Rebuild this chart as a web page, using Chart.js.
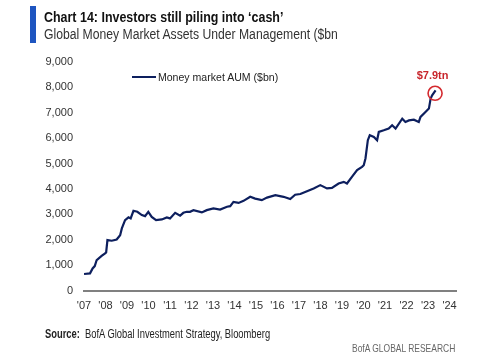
<!DOCTYPE html>
<html>
<head>
<meta charset="utf-8">
<script src="https://cdn.jsdelivr.net/npm/chart.js@4/dist/chart.umd.min.js"></script>
<style>
  html, body { margin:0; padding:0; background:#fff; }
  #wrap { position:relative; width:500px; height:355px; overflow:hidden; font-family:"Liberation Sans",Arial,sans-serif; }
  #c { position:absolute; left:0; top:0; }
  .bar { position:absolute; left:30px; top:6px; width:6px; height:37px; background:#1e55c0; }
  .t { position:absolute; white-space:nowrap; transform-origin:left center; }
  .title { left:44px; top:8px; font-size:15px; font-weight:bold; color:#111; line-height:18px; transform:scaleX(0.83); }
  .sub { left:44px; top:25px; font-size:14px; color:#333; line-height:18px; transform:scaleX(0.87); }
  .legend { left:132px; top:70px; font-size:11px; color:#222; line-height:14px; transform:scaleX(0.96); }
  .legend span.ln { display:inline-block; width:25px; height:2px; background:#0d1f5e; vertical-align:middle; margin-right:2px; position:relative; top:-1px; }
  .src { left:45px; top:327px; font-size:12px; color:#222; line-height:15px; transform:scaleX(0.78); }
  .brand { left:352px; top:341px; font-size:11px; color:#666; line-height:14px; transform:scaleX(0.77); }
</style>
</head>
<body>
<div id="wrap">
  <canvas id="c" width="500" height="355"></canvas>
  <div class="bar"></div>
  <div class="t title">Chart 14: Investors still piling into ‘cash’</div>
  <div class="t sub">Global Money Market Assets Under Management ($bn</div>
  <div class="t legend"><span class="ln"></span>Money market AUM ($bn)</div>
  <div class="t src"><b>Source:</b>&nbsp; BofA Global Investment Strategy, Bloomberg</div>
  <div class="t brand">BofA GLOBAL RESEARCH</div>
</div>
<script>
const seriesName = "Money market AUM ($bn)";
const dates = [2007.0, 2007.28, 2007.4, 2007.5, 2007.59, 2007.82, 2007.98, 2008.03, 2008.09, 2008.29, 2008.52, 2008.68, 2008.76, 2008.91, 2009.07, 2009.17, 2009.3, 2009.48, 2009.69, 2009.84, 2009.99, 2010.15, 2010.35, 2010.62, 2010.85, 2011.0, 2011.24, 2011.47, 2011.62, 2011.78, 2011.93, 2012.09, 2012.48, 2012.71, 2013.02, 2013.33, 2013.65, 2013.8, 2013.95, 2014.19, 2014.42, 2014.73, 2014.96, 2015.27, 2015.51, 2015.9, 2016.28, 2016.59, 2016.82, 2017.06, 2017.37, 2017.68, 2017.99, 2018.3, 2018.53, 2018.84, 2019.08, 2019.23, 2019.46, 2019.7, 2019.93, 2020.01, 2020.09, 2020.2, 2020.29, 2020.48, 2020.63, 2020.71, 2020.94, 2021.17, 2021.33, 2021.49, 2021.8, 2021.95, 2022.11, 2022.34, 2022.57, 2022.65, 2022.88, 2023.04, 2023.12, 2023.19, 2023.35];
const values = [650, 675, 870, 960, 1200, 1360, 1460, 1500, 1985, 1960, 2010, 2180, 2445, 2770, 2880, 2840, 3140, 3100, 2970, 2930, 3100, 2900, 2770, 2800, 2880, 2840, 3060, 2950, 3060, 3100, 3100, 3165, 3075, 3165, 3230, 3190, 3300, 3320, 3490, 3450, 3530, 3690, 3620, 3560, 3660, 3755, 3690, 3600, 3770, 3800, 3910, 4020, 4150, 4020, 4040, 4215, 4280, 4215, 4475, 4740, 4870, 4935, 5200, 5920, 6115, 6050, 5920, 6245, 6310, 6380, 6510, 6380, 6770, 6640, 6700, 6730, 6640, 6835, 7030, 7165, 7560, 7690, 7885];
const yTicks = [0, 1000, 2000, 3000, 4000, 5000, 6000, 7000, 8000, 9000];
const xTickYears = [2007, 2008, 2009, 2010, 2011, 2012, 2013, 2014, 2015, 2016, 2017, 2018, 2019, 2020, 2021, 2022, 2023, 2024];
const calloutLabel = "$7.9tn";

const points = dates.map((d, i) => ({ x: d, y: values[i] }));

const callout = {
  id: 'callout',
  afterDatasetsDraw(chart) {
    const meta = chart.getDatasetMeta(0);
    const last = meta.data[meta.data.length - 1];
    const ctx = chart.ctx;
    ctx.save();
    ctx.strokeStyle = '#d42a2f';
    ctx.lineWidth = 1.6;
    ctx.beginPath();
    ctx.arc(last.x - 0.5, last.y + 3, 7, 0, Math.PI * 2);
    ctx.stroke();
    ctx.fillStyle = '#c8262c';
    ctx.font = 'bold 11px "Liberation Sans", Arial, sans-serif';
    ctx.textAlign = 'center';
    ctx.textBaseline = 'middle';
    ctx.fillText(calloutLabel, last.x - 3, last.y - 14);
    ctx.restore();
  }
};

new Chart(document.getElementById('c'), {
  type: 'line',
  data: {
    datasets: [{
      label: seriesName,
      data: points,
      borderColor: '#0d1f5e',
      borderWidth: 2.2,
      pointRadius: 0,
      tension: 0,
      fill: false
    }]
  },
  options: {
    responsive: false,
    animation: false,
    events: [],
    layout: { padding: { top: 62, right: 44, left: 0, bottom: 0 } },
    plugins: { legend: { display: false }, tooltip: { enabled: false } },
    scales: {
      x: {
        type: 'linear',
        min: 2007,
        max: 2024.3,
        afterBuildTicks(scale) { scale.ticks = xTickYears.map(v => ({ value: v })); },
        afterFit(scale) { scale.height = 64.5; },
        grid: { display: false, drawTicks: false },
        border: { display: true, color: '#808080', width: 2 },
        ticks: {
          padding: 9,
          color: '#333',
          font: { family: '"Liberation Sans", Arial, sans-serif', size: 11 },
          maxRotation: 0,
          autoSkip: false,
          callback: v => "'" + String(v).slice(2)
        }
      },
      y: {
        min: 0,
        max: 9000,
        afterBuildTicks(scale) { scale.ticks = yTicks.map(v => ({ value: v })); },
        afterFit(scale) { scale.width = 84; },
        grid: { display: false, drawTicks: false },
        border: { display: false },
        ticks: {
          padding: 11,
          color: '#333',
          font: { family: '"Liberation Sans", Arial, sans-serif', size: 11 },
          callback: v => v.toLocaleString('en-US')
        }
      }
    }
  },
  plugins: [callout]
});
</script>
</body>
</html>
